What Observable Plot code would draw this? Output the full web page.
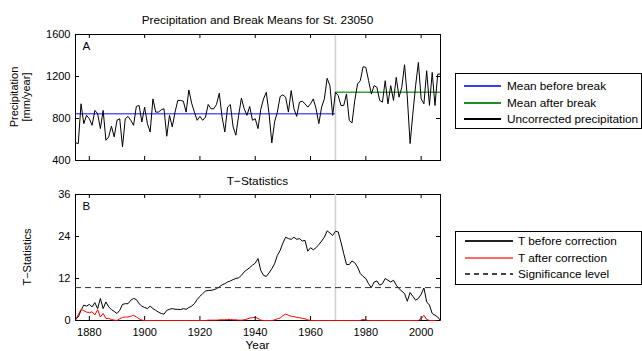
<!DOCTYPE html>
<html>
<head>
<meta charset="utf-8">
<script src="https://cdn.jsdelivr.net/npm/d3@7"></script>
<script src="https://cdn.jsdelivr.net/npm/@observablehq/plot@0.6"></script>
<style>
  html, body { margin: 0; padding: 0; background: #fff; }
  #wrap { position: relative; width: 642px; height: 351px; overflow: hidden; font-family: "Liberation Sans", Arial, Helvetica, sans-serif; color: #000; }
  #wrap svg.plot { position: absolute; left: 0; top: 0; }
  .txt { position: absolute; white-space: nowrap; font-size: 11.8px; line-height: 1; }
  .rot { transform: translate(-50%, -50%) rotate(-90deg); text-align: center; line-height: 1.1; font-size: 11px; }
  .legend { position: absolute; border: 1px solid #000; background: #fff; box-sizing: border-box; }
  .legend .row { position: absolute; height: 12px; font-size: 11.8px; line-height: 12px; white-space: nowrap; }
  .legend .sample { position: absolute; }
</style>
</head>
<body>
<div id="wrap"></div>
<script>
// ---------------- data ----------------
const firstYear = 1875;
const lastYear = 2007;
const precipitation = [
  570, 560, 940, 751, 830, 798, 735, 877, 846, 704,
  877, 593, 625, 726, 625, 783, 798, 530, 798, 820,
  783, 735, 915, 924, 767, 908, 751, 672, 987, 861,
  861, 883, 893, 631, 830, 720, 861, 972, 972, 965,
  861, 1072, 946, 861, 783, 820, 783, 814, 934, 893,
  893, 934, 1041, 814, 672, 908, 934, 720, 641, 830,
  994, 893, 830, 915, 783, 798, 704,
  886, 987, 1050, 846, 568, 767, 861, 1009, 1025, 1003,
  861, 1066, 893, 820, 956, 965, 940, 908, 940, 987,
  893, 751, 908, 987, 1183, 1113, 830, 1050, 1019, 924,
  924, 1034, 783, 757, 972, 1129, 1160, 1293, 1287, 1160,
  1034, 1113, 1097, 972, 956, 1160, 940, 1113, 972, 1192,
  1003, 1097, 1312, 1003, 562, 846, 1113, 1334, 987, 940,
  1255, 924, 1239, 924, 1223, 1223
];
const tBefore = [
  0.5, 1.0, 2.9, 4.4, 4.1, 4.6, 3.9, 5.1, 3.4, 6.3,
  3.4, 5.3, 3.9, 3.1, 2.6, 2.0, 2.9, 4.6, 4.8, 4.8,
  5.8, 6.3, 6.0, 4.8, 4.1, 3.7, 3.4, 4.1, 3.4, 2.9,
  2.4, 2.0, 1.8, 2.9, 3.2, 3.4, 3.2, 3.2, 3.1, 3.4,
  3.2, 3.7, 4.1, 4.8, 6.0, 6.9, 7.7, 8.4, 8.6, 8.6,
  8.8, 9.1, 9.6, 10.2, 10.5, 11.0, 11.3, 11.7, 12.0, 12.2,
  12.9, 13.9, 14.5, 15.1, 15.8, 16.4,
  17.7, 14.3, 12.9, 12.6, 13.6, 14.8, 16.2, 18.6, 20.0, 22.1,
  23.8, 23.4, 23.2, 23.8, 23.2, 23.4, 22.7, 22.9, 19.8, 20.8,
  20.2, 20.8, 21.7, 22.7, 23.8, 25.6, 25.0, 24.3, 25.5, 25.3,
  22.4, 19.1, 16.0, 16.0, 17.0, 16.5, 15.3, 13.4, 12.6, 12.0,
  10.5, 9.4, 11.0, 11.3, 10.1, 10.5, 12.0, 11.5, 11.0, 11.5,
  10.1, 9.1, 8.4, 7.7, 5.5, 8.0, 6.9, 5.8, 6.3, 7.5,
  9.3, 5.3, 4.4, 2.0, 1.5, 1.0, 0.0
];
const tAfter = [
  0, 1.6, 3.2, 2.8, 2.4, 2.2, 2.5, 1.6, 3.1, 1.0,
  2.0, 0.6, 0.6, 0.3, 0.1, 0, 0.5, 0.9, 1.0, 1.0,
  1.2, 1.5, 1.0, 0.5, 0.1, 0, 0, 0, 0, 0,
  0, 0, 0, 0, 0, 0, 0, 0, 0, 0,
  0, 0, 0, 0, 0, 0, 0, 0, 0.1, 0.1,
  0.1, 0.1, 0.2, 0.2, 0.2, 0.3, 0.3, 0.2, 0.2, 0.1,
  0.1, 0.2, 0.4, 0.7, 0.8, 0.9, 0.6, 0.1, 0, 0,
  0, 0, 0.2, 0.5, 0.7, 1.4, 1.8, 1.5, 1.2, 1.1,
  0.9, 0.8, 0.6, 0.5, 0.2, 0, 0, 0, 0, 0,
  0, 0, 0, 0, 0, 0, 0, 0, 0, 0,
  0, 0, 0, 0, 0.3, 0.1, 0, 0, 0, 0,
  0, 0, 0, 0, 0, 0, 0, 0, 0, 0,
  0, 0, 0, 0, 0, 0.6, 1.5, 0.3, 0, 0,
  0, 0, 0
];
const breakYear = 1969;
const meanBefore = 846;
const meanAfter = 1050;
const significanceLevel = 9.4;
const yearTicks = [1880, 1900, 1920, 1940, 1960, 1980, 2000];
const precipTicks = [400, 800, 1200, 1600];
const tTicks = [0, 12, 24, 36];
const legendTop = [
  {label: "Mean before break", color: "#3a3aff", dash: false},
  {label: "Mean after break", color: "#1e8c1e", dash: false},
  {label: "Uncorrected precipitation", color: "#000", dash: false}
];
const legendBottom = [
  {label: "T before correction", color: "#222", dash: false},
  {label: "T after correction", color: "#ff6a6a", dash: false},
  {label: "Significance level", color: "#444", dash: true}
];

// ---------------- tables ----------------
const years = d3.range(firstYear, lastYear + 1);
const precipData = years.map((year, i) => ({year, value: precipitation[i]}));
const tData = years.map((year, i) => ({year, before: tBefore[i], after: tAfter[i]}));

const W = 642, H = 351;
const ML = 75, MR = 202;
const plotW = W - ML - MR;
const font = '"Liberation Sans", Arial, Helvetica, sans-serif';
const tickLen = 4;
const tickFont = 11;
const fmt = d => String(d);

function panelMarks(yTicks, ph) {
  return [
    Plot.tickY(yTicks, {y: d => d, insetRight: plotW - tickLen, stroke: "black"}),
    Plot.tickY(yTicks, {y: d => d, insetLeft: plotW - tickLen, stroke: "black"}),
    Plot.tickX(yearTicks, {x: d => d, insetTop: ph - tickLen, stroke: "black"}),
    Plot.tickX(yearTicks, {x: d => d, insetBottom: ph - tickLen, stroke: "black"}),
    Plot.axisY(yTicks, {tickSize: 0, tickPadding: 5, fontSize: tickFont, tickFormat: fmt, label: null})
  ];
}

// ---------- top panel ----------
const topMT = 34, topMB = 191;
const topPH = H - topMT - topMB;
const topPlot = Plot.plot({
  width: W, height: H,
  marginLeft: ML, marginRight: MR, marginTop: topMT, marginBottom: topMB,
  style: {fontFamily: font, fontSize: tickFont + "px", background: "transparent", color: "black", overflow: "visible"},
  x: {domain: [firstYear, lastYear], axis: null},
  y: {domain: [400, 1600]},
  marks: [
    Plot.ruleX([breakYear], {stroke: "#d2d2d2", strokeWidth: 1.6}),
    Plot.ruleY([meanBefore], {x1: firstYear, x2: breakYear, stroke: "#5c5cff", strokeWidth: 1.5}),
    Plot.ruleY([meanAfter], {x1: breakYear, x2: lastYear, stroke: "#3c9a3c", strokeWidth: 1.5}),
    Plot.lineY(precipData, {x: "year", y: "value", stroke: "black", strokeWidth: 1}),
    Plot.frame({stroke: "black"}),
    ...panelMarks(precipTicks, topPH),
    Plot.text(["A"], {text: d => d, frameAnchor: "top-left", dx: 7, dy: 7, fontSize: 11.5})
  ]
});
topPlot.classList.add("plot");

// ---------- bottom panel ----------
const botMT = 194, botMB = 31;
const botPH = H - botMT - botMB;
const bottomPlot = Plot.plot({
  width: W, height: H,
  marginLeft: ML, marginRight: MR, marginTop: botMT, marginBottom: botMB,
  style: {fontFamily: font, fontSize: tickFont + "px", background: "transparent", color: "black", overflow: "visible"},
  x: {domain: [firstYear, lastYear]},
  y: {domain: [0, 36]},
  marks: [
    Plot.frame({stroke: "black"}),
    Plot.ruleX([breakYear], {stroke: "#d2d2d2", strokeWidth: 1.6}),
    Plot.lineY(tData, {x: "year", y: "before", stroke: "black", strokeWidth: 1}),
    Plot.lineY(tData, {x: "year", y: "after", stroke: "red", strokeWidth: 1}),
    Plot.ruleY([significanceLevel], {stroke: "#333", strokeWidth: 1, strokeDasharray: "6,4"}),
    ...panelMarks(tTicks, botPH),
    Plot.axisX(yearTicks, {tickSize: 0, tickPadding: 8, fontSize: tickFont, tickFormat: fmt, label: null}),
    Plot.text(["B"], {text: d => d, frameAnchor: "top-left", dx: 7, dy: 7, fontSize: 11.5})
  ]
});
bottomPlot.classList.add("plot");

const wrap = document.getElementById("wrap");
wrap.appendChild(topPlot);
wrap.appendChild(bottomPlot);

// ---------- texts ----------
function addText(html, css, cls = "txt") {
  const d = document.createElement("div");
  d.className = cls;
  d.innerHTML = html;
  Object.assign(d.style, css);
  wrap.appendChild(d);
  return d;
}
addText("Precipitation and Break Means for St. 23050", {left: ML + "px", width: plotW + "px", textAlign: "center", top: "15px"});
addText("T\u2212Statistics", {left: ML + "px", width: plotW + "px", textAlign: "center", top: "176px"});
addText("Year", {left: ML + "px", width: plotW + "px", textAlign: "center", top: "340px"});
addText("Precipitation<br>[mm/year]", {left: "20px", top: ((topMT + H - topMB) / 2) + "px"}, "txt rot");
addText("T\u2212Statistics", {left: "27px", top: ((botMT + H - botMB) / 2) + "px"}, "txt rot");

// ---------- legends ----------
function addLegend(items, box, rows, lineX0, lineX1, textX) {
  const lg = document.createElement("div");
  lg.className = "legend";
  Object.assign(lg.style, {left: box.left + "px", top: box.top + "px", width: box.width + "px", height: box.height + "px"});
  items.forEach((it, i) => {
    const sample = document.createElement("div");
    sample.className = "sample";
    Object.assign(sample.style, {
      left: lineX0 + "px", top: (rows[i]) + "px",
      width: (lineX1 - lineX0) + "px", height: "1.5px",
      background: it.dash
        ? `repeating-linear-gradient(to right, ${it.color} 0 5px, transparent 5px 9px)`
        : it.color
    });
    lg.appendChild(sample);
    const row = document.createElement("div");
    row.className = "row";
    row.style.top = (rows[i] - 5) + "px";
    row.style.left = textX + "px";
    row.textContent = it.label;
    lg.appendChild(row);
  });
  wrap.appendChild(lg);
}
addLegend(legendTop, {left: 455, top: 73, width: 187, height: 56}, [11, 28, 44], 8, 45, 51);
addLegend(legendBottom, {left: 455, top: 231, width: 187, height: 54}, [8, 25, 41], 9, 57, 62);
</script>
</body>
</html>
